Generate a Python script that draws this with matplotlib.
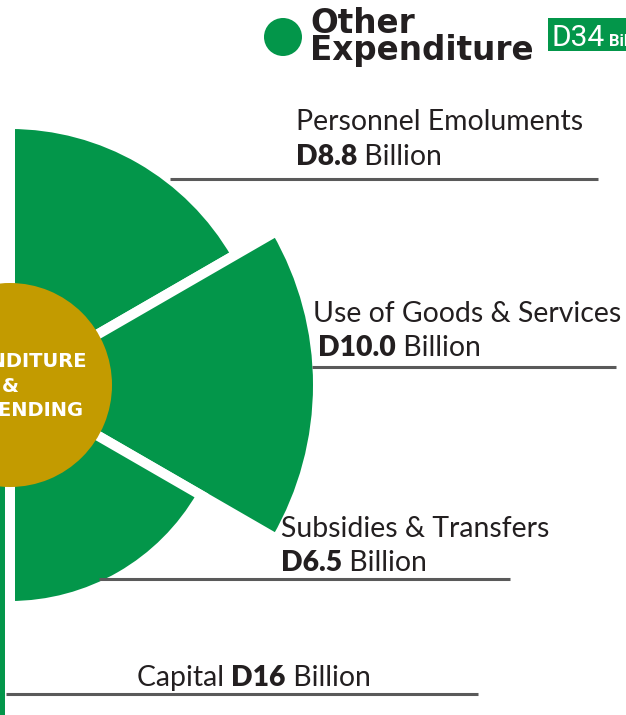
import numpy as np
import matplotlib.pyplot as plt
from matplotlib.patches import Circle, Rectangle

# data
categories = ["Personnel Emoluments", "Use of Goods & Services",
              "Subsidies & Transfers", "Capital"]
values = [8.8, 10.0, 6.5, 16]
value_labels = ["D8.8", "D10.0", "D6.5", "D16"]
# wedge angles (deg, counter-clockwise from east) and outer radius (chart units)
wedge_start = [30, -30, -90, -150]
wedge_end = [90, 30, -30, -90]
wedge_radius = [261, 308, 221, 420]
total_label = "D34"
center_text = "EXPENDITURE\n&\nNET LENDING"

GREEN = "#03964a"
GOLD = "#c39b00"
DARK = "#231f20"
LINE = "#5a5a5a"

W, H = 626, 715
cx, cy = 10, 385      # pixel centre of the fan
R = 440               # pixel radius of the polar axes

fig = plt.figure(figsize=(W / 100, H / 100), dpi=100)

# polar fan
ax = fig.add_axes([(cx - R) / W, (H - cy - R) / H, 2 * R / W, 2 * R / H],
                  projection="polar", zorder=1)
ax.patch.set_alpha(0)
ax.set_ylim(0, R)
ax.set_axis_off()
start = np.radians(wedge_start)
end = np.radians(wedge_end)
ax.bar((start + end) / 2, wedge_radius, width=end - start, bottom=0,
       color=GREEN, edgecolor="white", linewidth=7.2)
ax.bar(0, 102, width=2 * np.pi, bottom=0, color=GOLD, linewidth=0, zorder=3)

# top layer in pixel coordinates (lines, texts, title)
ax1 = fig.add_axes([0, 0, 1, 1], zorder=2)
ax1.set_xlim(0, W)
ax1.set_ylim(H, 0)
ax1.axis("off")

fig.canvas.draw()
renderer = fig.canvas.get_renderer()


def rich(axis, x, y, parts, size=20.4):
    # draw a run of (text, bold) pieces one after another
    for txt, bold in parts:
        t = axis.text(x, y, txt, fontsize=size, family="Lato",
                      fontweight="heavy" if bold else "normal",
                      color=DARK, ha="left", va="baseline")
        bb = t.get_window_extent(renderer)
        x = axis.transData.inverted().transform((bb.x1, bb.y0))[0]


def underline(x0, x1, y):
    ax1.plot([x0, x1], [y, y], color=LINE, lw=2.2, solid_capstyle="butt")


# label blocks: name line, value line, underline
rich(ax1, 296, 130, [(categories[0], False)])
rich(ax1, 296, 165, [(value_labels[0], True), (" Billion", False)])
underline(170, 598, 179)

rich(ax1, 313, 322, [(categories[1], False)])
rich(ax1, 318, 356, [(value_labels[1], True), (" Billion", False)])
underline(312, 616, 367)

rich(ax1, 281, 537, [(categories[2], False)])
rich(ax1, 281, 571, [(value_labels[2], True), (" Billion", False)])
underline(99, 510, 579)

rich(ax1, 137, 686, [(categories[3] + " ", False), (value_labels[3], True),
                     (" Billion", False)])
underline(6, 478, 694)

# centre text
for i, line in enumerate(center_text.split("\n")):
    ax1.text(cx, 367 + i * 24.5, line, fontsize=14, family="DejaVu Sans",
             fontweight="bold", color="white", ha="center", va="baseline")

# title
ax1.add_patch(Circle((283, 37), 19, color=GREEN, lw=0))
ax1.text(310, 33, "Other", fontsize=23.5, fontweight="heavy",
         family="DejaVu Sans", color=DARK, ha="left", va="baseline")
ax1.text(310, 60, "Expenditure", fontsize=23.5, fontweight="heavy",
         family="DejaVu Sans", color=DARK, ha="left", va="baseline")
ax1.add_patch(Rectangle((548, 18), 90, 33, color=GREEN, lw=0, clip_on=False))
ax1.text(552, 46, total_label, fontsize=21.5, family="Roboto", color="white",
         ha="left", va="baseline")
ax1.text(609, 46, "Billion", fontsize=12, family="Roboto", fontweight="bold",
         color="white", ha="left", va="baseline")

fig.savefig("out.png", dpi=100)
